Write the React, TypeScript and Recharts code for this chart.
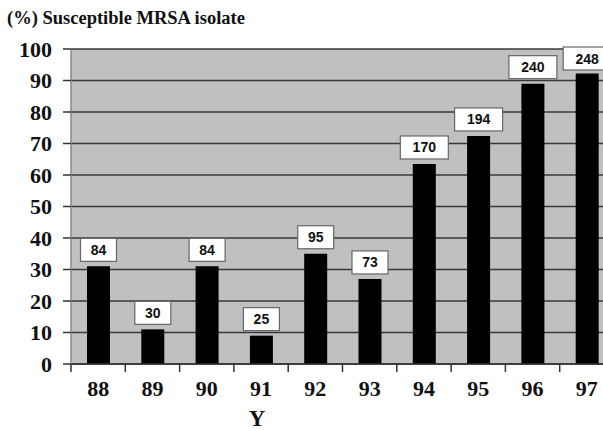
import { Bar, BarChart, CartesianGrid, LabelList, XAxis, YAxis } from "recharts";

// year of isolation (19xx)
const years = ["88", "89", "90", "91", "92", "93", "94", "95", "96", "97"];
// % of MRSA isolates that were susceptible
const susceptiblePct = [31, 11, 31, 9, 35, 27, 63.5, 72.4, 89, 92.2];
// number of isolates tested, shown in the boxes
const isolateCounts = [84, 30, 84, 25, 95, 73, 170, 194, 240, 248];
const yTicks = [0, 10, 20, 30, 40, 50, 60, 70, 80, 90, 100];

const data = years.map((year, i) => ({
  year,
  pct: susceptiblePct[i],
  n: isolateCounts[i],
}));

const SERIF = "'Liberation Serif', 'Times New Roman', serif";
const SANS = "'Liberation Sans', Arial, sans-serif";
const PLOT_TOP = 49;

function YearTick(props: any) {
  const { x, y, payload } = props;
  const half = payload?.offset ?? 27.15;
  return (
    <g>
      <line x1={x - half} y1={y} x2={x - half} y2={y + 8} stroke="#333" strokeWidth={1.5} />
      <text
        x={x}
        y={y + 32}
        textAnchor="middle"
        fontFamily={SERIF}
        fontWeight="bold"
        fontSize={22}
        fill="#111"
      >
        {payload.value}
      </text>
    </g>
  );
}

function CountBox(props: any) {
  const { x, y, width, value } = props;
  const label = String(value);
  const w = 12 + label.length * 12;
  const h = 23;
  const cx = x + width / 2;
  const top = Math.max(PLOT_TOP - 2, y - 5 - h);
  return (
    <g>
      <rect x={cx - w / 2} y={top} width={w} height={h} fill="#fff" stroke="#666" strokeWidth={1.2} />
      <text
        x={cx}
        y={top + h / 2 + 5}
        textAnchor="middle"
        fontFamily={SANS}
        fontWeight="bold"
        fontSize={14}
        fill="#111"
      >
        {label}
      </text>
    </g>
  );
}

export default function App() {
  return (
    <div
      style={{
        position: "fixed",
        left: 0,
        top: 0,
        width: 603,
        height: 430,
        overflow: "hidden",
        background: "#fff",
      }}
    >
      <BarChart
        width={640}
        height={430}
        data={data}
        margin={{ top: PLOT_TOP, right: 26, left: 0, bottom: 0 }}
        barCategoryGap={0}
      >
        <CartesianGrid vertical={false} fill="#c0c0c0" stroke="#383838" strokeWidth={1.5} />
        <XAxis
          dataKey="year"
          height={66}
          tickLine={false}
          tickSize={0}
          tickMargin={0}
          axisLine={{ stroke: "#333", strokeWidth: 1.5 }}
          tick={<YearTick />}
          interval={0}
        />
        <YAxis
          width={71}
          domain={[0, 100]}
          ticks={yTicks}
          interval={0}
          tickSize={8}
          tickMargin={11}
          axisLine={{ stroke: "#888", strokeWidth: 1.5 }}
          tickLine={{ stroke: "#333", strokeWidth: 1.5 }}
          tick={{ fontFamily: SERIF, fontWeight: "bold", fontSize: 22, fill: "#111" }}
        />
        <Bar dataKey="pct" fill="#000" barSize={23} isAnimationActive={false}>
          <LabelList dataKey="n" content={<CountBox />} />
        </Bar>
      </BarChart>
      <svg
        width={603}
        height={430}
        style={{ position: "absolute", left: 0, top: 0, pointerEvents: "none" }}
      >
        <text x={7} y={24} fontFamily={SERIF} fontWeight="bold" fontSize={18.5} fill="#111">
          (%) Susceptible MRSA isolate
        </text>
        <text x={257} y={426} textAnchor="middle" fontFamily={SERIF} fontWeight="bold" fontSize={23} fill="#111">
          Y
        </text>
      </svg>
    </div>
  );
}
